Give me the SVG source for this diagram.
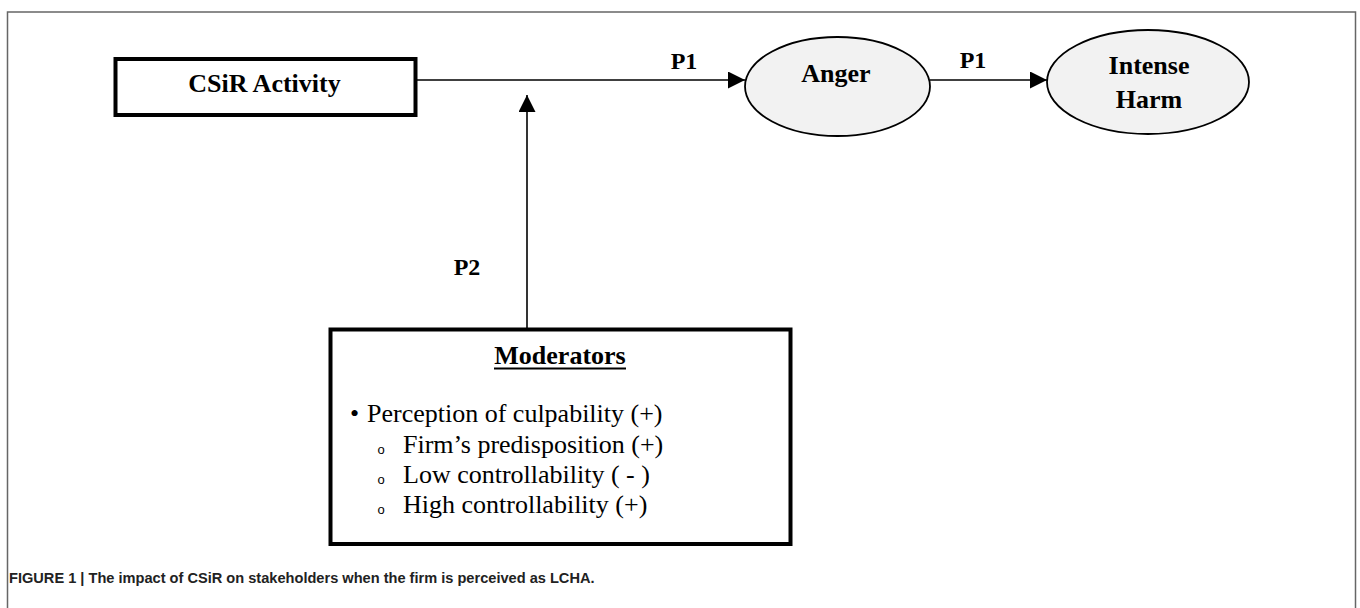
<svg xmlns="http://www.w3.org/2000/svg" width="1360" height="608" viewBox="0 0 1360 608">
<style>
.bold{font-family:"Liberation Serif","Times New Roman",serif;font-weight:bold;font-size:26px;fill:#000;text-anchor:middle}
.lab{font-family:"Liberation Serif","Times New Roman",serif;font-weight:bold;font-size:24px;fill:#000;text-anchor:middle}
.reg{font-family:"Liberation Serif","Times New Roman",serif;font-size:26px;fill:#000}
.circ{font-family:"Liberation Sans",Arial,sans-serif;font-size:13px;fill:#000;text-anchor:middle}
.box{fill:#fff;stroke:#000;stroke-width:4}
.ell{fill:#f2f2f2;stroke:#000;stroke-width:1.8}
.conn{stroke:#000;stroke-width:1.6;fill:none}
.cap{font-family:"Liberation Sans",Arial,sans-serif;font-weight:bold;font-size:14.6px;fill:#222}
</style>
<defs>
<marker id="arr" viewBox="0 0 17 17" refX="17" refY="8.5" markerWidth="17" markerHeight="17" markerUnits="userSpaceOnUse" orient="auto">
<path d="M0,0 L17,8.5 L0,17 Z" fill="#000"/>
</marker>
</defs>
<rect width="1360" height="608" fill="#fff"/>
<rect id="frame" x="7.5" y="12" width="1348" height="620" fill="none" stroke="#666" stroke-width="1.5"/>
<g id="connectors">
<line class="conn" x1="417" y1="80" x2="745" y2="80" marker-end="url(#arr)"/>
<line class="conn" x1="930" y1="80" x2="1047" y2="80" marker-end="url(#arr)"/>
<line class="conn" x1="527" y1="328" x2="527" y2="95" marker-end="url(#arr)"/>
<text class="lab" x="684" y="69">P1</text>
<text class="lab" x="973" y="68">P1</text>
<text class="lab" x="467" y="275">P2</text>
</g>
<g id="csir">
<rect class="box" x="115.5" y="59" width="300" height="56"/>
<text class="bold" x="264.5" y="92">CSiR Activity</text>
</g>
<g id="anger">
<ellipse class="ell" cx="837.5" cy="86.5" rx="92.5" ry="49.5"/>
<text class="bold" x="836" y="82">Anger</text>
</g>
<g id="harm">
<ellipse class="ell" cx="1148" cy="82" rx="101" ry="52"/>
<text class="bold" x="1149" y="74">Intense</text>
<text class="bold" x="1149" y="108">Harm</text>
</g>
<g id="moderators">
<rect class="box" x="330.5" y="329.5" width="460" height="214.5"/>
<text class="bold" x="560" y="364">Moderators</text>
<line x1="494" y1="368.5" x2="626" y2="368.5" stroke="#000" stroke-width="2"/>
<text class="reg" x="354.5" y="422" font-size="18" text-anchor="middle">•</text>
<text class="reg" x="367" y="422">Perception of culpability (+)</text>
<text class="circ" x="381" y="454">o</text>
<text class="reg" x="403" y="453">Firm’s predisposition (+)</text>
<text class="circ" x="381" y="484">o</text>
<text class="reg" x="403" y="483">Low controllability ( - )</text>
<text class="circ" x="381" y="514">o</text>
<text class="reg" x="403" y="513">High controllability (+)</text>
</g>
<text class="cap" x="9" y="583">FIGURE 1 | The impact of CSiR on stakeholders when the firm is perceived as LCHA.</text>
</svg>
